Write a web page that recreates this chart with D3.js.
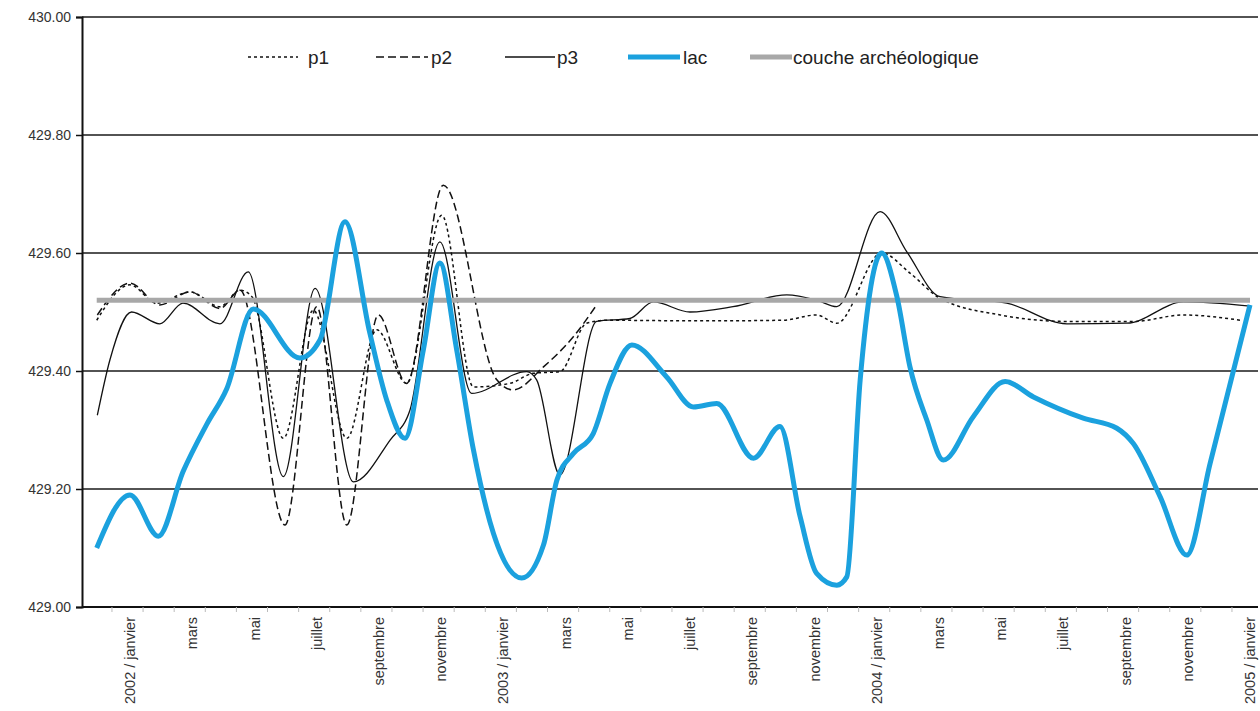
<!DOCTYPE html>
<html>
<head>
<meta charset="utf-8">
<script src="https://cdn.jsdelivr.net/npm/d3@7"></script>
<style>
  html, body { margin: 0; padding: 0; background: #fff; }
  svg { display: block; font-family: "Liberation Sans", Arial, sans-serif; }
</style>
</head>
<body>
<svg id="chart" width="1260" height="711"></svg>
<script>
// ---- data (month offsets from January 2002, water level in m) ----
const monthLabels = ["2002 / janvier","mars","mai","juillet","septembre","novembre",
  "2003 / janvier","mars","mai","juillet","septembre","novembre",
  "2004 / janvier","mars","mai","juillet","septembre","novembre","2005 / janvier"];
const labelMonths = [0,2,4,6,8,10,12,14,16,18,20,22,24,26,28,30,32,34,36];
const yTicks = [429.0, 429.2, 429.4, 429.6, 429.8, 430.0];

const p1Months = [-1.07,0.00,0.86,1.93,2.89,3.54,3.92,4.93,5.89,6.97,7.93,8.89,10.02,11.04,12.21,12.96,13.82,14.68,15.32,18.32,20.99,22.07,22.72,24.16,25.07,26.04,27.97,30.11,32.25,33.86,35.70];
const p1Values = [429.486,429.546,429.515,429.534,429.509,429.537,429.526,429.286,429.503,429.286,429.47,429.379,429.664,429.373,429.379,429.396,429.399,429.481,429.486,429.485,429.486,429.495,429.481,429.600,429.566,429.523,429.495,429.484,429.484,429.495,429.486];

const p2Months = [-1.05,0.00,0.96,1.93,2.89,3.54,4.98,6.00,6.97,7.98,8.89,10.07,11.79,12.32,13.29,14.25,15.00];
const p2Values = [429.495,429.549,429.512,429.534,429.506,429.537,429.139,429.509,429.139,429.495,429.379,429.715,429.385,429.368,429.407,429.458,429.512];

const p3Months = [-1.05,-0.64,0.05,0.96,1.70,2.89,3.80,4.93,5.95,7.18,8.36,9.00,9.96,10.98,12.75,13.07,13.82,15.00,16.07,16.82,18.00,19.38,21.11,22.07,22.72,24.11,24.97,26.04,28.18,30.11,32.04,33.86,36.00];
const p3Values = [429.325,429.42,429.50,429.48,429.515,429.48,429.568,429.221,429.54,429.212,429.283,429.334,429.619,429.362,429.399,429.385,429.224,429.484,429.489,429.517,429.50,429.509,429.529,429.52,429.509,429.67,429.602,429.526,429.515,429.48,429.481,429.517,429.51];

const lacMonths = [-1.07,0.00,0.91,1.71,2.47,3.11,3.96,5.46,6.11,6.91,7.71,8.25,8.84,9.43,9.96,10.50,11.04,11.68,12.59,13.29,13.72,14.25,14.89,15.43,16.13,17.25,18.11,18.86,20.04,20.89,21.54,22.07,22.72,23.04,23.47,24.16,24.65,25.07,25.61,26.14,27.11,28.13,29.04,30.64,31.72,32.25,33.11,33.97,34.72,36.00];
const lacValues = [429.10,429.19,429.12,429.23,429.31,429.37,429.505,429.422,429.453,429.653,429.464,429.351,429.286,429.436,429.583,429.436,429.266,429.125,429.049,429.105,429.215,429.26,429.294,429.379,429.444,429.39,429.339,429.345,429.252,429.306,429.153,429.057,429.037,429.051,429.385,429.600,429.526,429.407,429.317,429.249,429.323,429.382,429.356,429.32,429.303,429.277,429.187,429.088,429.244,429.512];

const coucheMonths = [-1.07, 36.00];
const coucheValues = [429.52, 429.52];

// ---- layout ----
const svg = d3.select("#chart");
const plotLeft = 82, plotRight = 1258, plotTop = 17, plotBottom = 607;
const x = d3.scaleLinear().domain([-1.543, 36.257]).range([plotLeft, plotRight]);
const y = d3.scaleLinear().domain([429, 430]).range([plotBottom, plotTop]);

// gridlines
svg.append("g").selectAll("line").data(yTicks.filter(v => v > 429)).join("line")
  .attr("x1", plotLeft).attr("x2", plotRight)
  .attr("y1", d => y(d)).attr("y2", d => y(d))
  .attr("stroke", "#1a1a1a").attr("stroke-width", 1.6);

// y axis
const yAxis = d3.axisLeft(y).tickValues(yTicks).tickFormat(d3.format(".2f")).tickSize(6).tickPadding(5);
const gy = svg.append("g").attr("transform", `translate(${plotLeft},0)`).call(yAxis);
gy.select(".domain").attr("stroke", "#111").attr("stroke-width", 2);
gy.selectAll(".tick line").attr("stroke", "#111").attr("stroke-width", 1.5);
gy.selectAll(".tick text").attr("font-size", 14).attr("fill", "#333")
  .attr("font-family", "'Liberation Sans', Arial, sans-serif");

// x axis line
svg.append("line").attr("x1", plotLeft).attr("x2", plotRight).attr("y1", plotBottom).attr("y2", plotBottom)
  .attr("stroke", "#111").attr("stroke-width", 2);
// faint monthly ticks
const tickMonths = d3.range(-1, 36).map(m => m + 0.42);
svg.append("g").selectAll("line").data(tickMonths).join("line")
  .attr("x1", d => x(d)).attr("x2", d => x(d))
  .attr("y1", plotBottom).attr("y2", plotBottom + 5)
  .attr("stroke", "#bbb").attr("stroke-width", 1);

// x labels
svg.append("g").selectAll("text").data(labelMonths).join("text")
  .attr("transform", d => `translate(${x(d)},${plotBottom + 10}) rotate(-90)`)
  .attr("text-anchor", "end").attr("dy", "0.35em")
  .attr("font-size", 14.5).attr("fill", "#333")
  .text((d, i) => monthLabels[i]);

// lines
const line = d3.line().x(d => x(d[0])).y(d => y(d[1])).curve(d3.curveMonotoneX);
const zip = (a, b) => a.map((m, i) => [m, b[i]]);

const series = [
  {name: "p1", data: zip(p1Months, p1Values), color: "#111", width: 1.5, dash: "3,3"},
  {name: "p2", data: zip(p2Months, p2Values), color: "#111", width: 1.5, dash: "8,4"},
  {name: "p3", data: zip(p3Months, p3Values), color: "#111", width: 1.3, dash: null},
  {name: "couche archéologique", data: zip(coucheMonths, coucheValues), color: "#a8a8a8", width: 5, dash: null},
  {name: "lac", data: zip(lacMonths, lacValues), color: "#1ba1de", width: 5, dash: null}
];

svg.append("g").selectAll("path").data(series).join("path")
  .attr("d", d => line(d.data))
  .attr("fill", "none")
  .attr("stroke", d => d.color)
  .attr("stroke-width", d => d.width)
  .attr("stroke-dasharray", d => d.dash)
  .attr("stroke-linejoin", "round");

// legend
const legendItems = [
  {name: "p1", x0: 248, x1: 298, tx: 308, s: series[0]},
  {name: "p2", x0: 376, x1: 428, tx: 431, s: series[1]},
  {name: "p3", x0: 505, x1: 555, tx: 557, s: series[2]},
  {name: "lac", x0: 628, x1: 680, tx: 683, s: series[4]},
  {name: "couche archéologique", x0: 750, x1: 792, tx: 793, s: series[3]}
];
const lg = svg.append("g");
const ly = 57;
lg.selectAll("line").data(legendItems).join("line")
  .attr("x1", d => d.x0).attr("x2", d => d.x1).attr("y1", ly).attr("y2", ly)
  .attr("stroke", d => d.s.color).attr("stroke-width", d => d.s.width)
  .attr("stroke-dasharray", d => d.s.dash);
lg.selectAll("text").data(legendItems).join("text")
  .attr("x", d => d.tx).attr("y", ly).attr("dy", "0.35em")
  .attr("font-size", 19).attr("fill", "#222")
  .text(d => d.name);
</script>
</body>
</html>
